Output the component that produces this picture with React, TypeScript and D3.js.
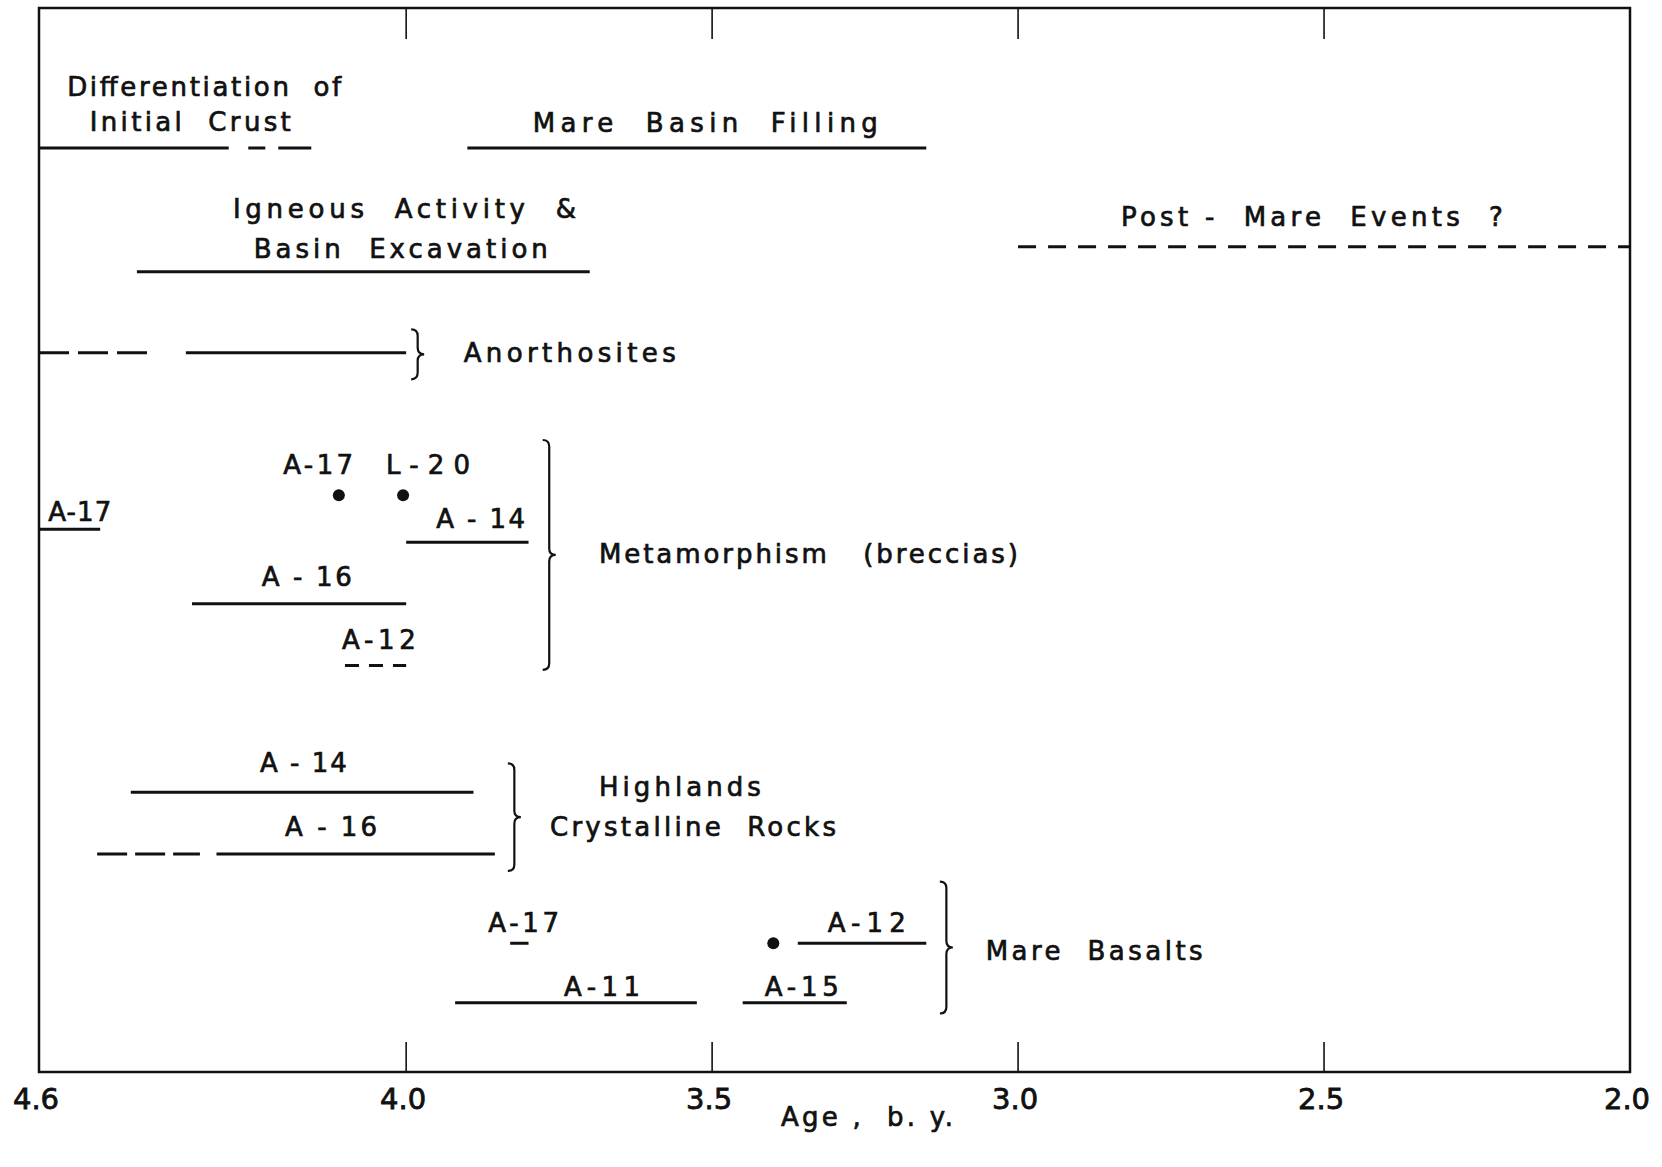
import React from 'react';
import * as d3 from 'd3';

const W = 1662;
const H = 1167;
const plot = { left: 39, right: 1630, top: 8, bottom: 1072 };

// Age axis, billion years (older on the left)
const xTicks = [4.6, 4.0, 3.5, 3.0, 2.5, 2.0];
const xTitle = 'Age ,  b. y.';

// Well constrained age spans: [record, older age, younger age]
const solidSpans: [string, number, number][] = [
  ['crust', 4.6, 4.29],
  ['mareFill', 3.9, 3.15],
  ['igneous', 4.44, 3.7],
  ['anorthosite', 4.36, 4.0],
  ['metaA17', 4.6, 4.5],
  ['metaA14', 4.0, 3.8],
  ['metaA16', 4.35, 4.0],
  ['highA14', 4.45, 3.89],
  ['highA16', 4.31, 3.855],
  ['basaltA17', 3.83, 3.8],
  ['basaltA12', 3.36, 3.15],
  ['basaltA11', 3.92, 3.525],
  ['basaltA15', 3.45, 3.28],
];

// Uncertain age spans (dashed)
const dashedSpans: [string, number, number][] = [
  ['crust', 4.258, 4.15],
  ['postMare', 3.0, 2.0],
  ['anorthosite', 4.6, 4.415],
  ['metaA12', 4.1, 4.0],
  ['highA16', 4.505, 4.337],
];

// Single age determinations
const pointAges: [string, number][] = [
  ['metaPoint', 4.11],
  ['metaPoint', 4.005],
  ['basaltA12', 3.4],
];

// ---- layout (vertical tracks in % of plot height) ----
const track: Record<string, number> = {
  crust: 13.15,
  mareFill: 13.15,
  igneous: 24.8,
  postMare: 22.45,
  anorthosite: 32.4,
  metaPoint: 45.8,
  metaA17: 49.0,
  metaA14: 50.2,
  metaA16: 56.0,
  metaA12: 61.8,
  highA14: 73.7,
  highA16: 79.5,
  basaltA17: 87.9,
  basaltA12: 87.9,
  basaltA11: 93.5,
  basaltA15: 93.5,
};

const dashFor: Record<string, string> = {
  crust: '17,13,33,50',
  postMare: '18,12',
  anorthosite: '30,9',
  metaA12: '14,10',
  highA16: '30,8',
};

// [text, left age, baseline track, rendered width]
const labels: [string, number, number, number][] = [
  ['Differentiation  of', 4.554, 8.3, 274],
  ['Initial  Crust', 4.517, 11.6, 201],
  ['Mare  Basin  Filling', 3.793, 11.7, 345],
  ['Igneous  Activity  &', 4.283, 19.7, 343],
  ['Basin  Excavation', 4.249, 23.45, 294],
  ['Post -  Mare  Events  ?', 2.832, 20.45, 382],
  ['Anorthosites', 3.906, 33.3, 212],
  ['A-17', 4.201, 43.75, 70],
  ['L-20', 4.033, 43.75, 84],
  ['A-17', 4.585, 48.25, 63],
  ['A - 14', 3.951, 48.9, 89],
  ['Metamorphism   (breccias)', 3.685, 52.2, 419],
  ['A - 16', 4.236, 54.35, 90],
  ['A-12', 4.105, 60.25, 74],
  ['A - 14', 4.239, 71.85, 87],
  ['Highlands', 3.685, 74.05, 162],
  ['A - 16', 4.198, 77.85, 92],
  ['Crystalline  Rocks', 3.765, 77.85, 286],
  ['A-17', 3.866, 86.8, 71],
  ['A-12', 3.311, 86.8, 78],
  ['A-11', 3.742, 92.85, 76],
  ['A-15', 3.414, 92.85, 74],
  ['Mare  Basalts', 3.053, 89.45, 217],
];

// braces grouping records: [age of brace, top track, bottom track]
const braces: [number, number, number][] = [
  [3.982, 30.2, 34.9],
  [3.767, 40.6, 62.2],
  [3.824, 71.0, 81.1],
  [3.118, 82.1, 94.5],
];

const FONT = "'DejaVu Sans', 'Liberation Sans', sans-serif";

function bracePath(x: number, y0: number, y1: number, w: number) {
  const m = (y0 + y1) / 2;
  const c = x + w / 2;
  const r = w / 2;
  return (
    `M${x},${y0} Q${c},${y0} ${c},${y0 + r} L${c},${m - r} ` +
    `Q${c},${m} ${x + w},${m} Q${c},${m} ${c},${m + r} ` +
    `L${c},${y1 - r} Q${c},${y1} ${x},${y1}`
  );
}

export default function App() {
  const x = d3.scaleLinear().domain([4.6, 2.0]).range([plot.left, plot.right]);
  const y = d3.scaleLinear().domain([0, 100]).range([plot.top, plot.bottom]);
  const fmt = d3.format('.1f');
  const inner = xTicks.slice(1, -1);

  return (
    <svg
      width={W}
      height={H}
      style={{ position: 'absolute', left: 0, top: 0, background: '#fff' }}
    >
      <rect x={0} y={0} width={W} height={H} fill="#fff" />

      {/* frame */}
      <rect
        x={plot.left}
        y={plot.top}
        width={plot.right - plot.left}
        height={plot.bottom - plot.top}
        fill="none"
        stroke="#111"
        strokeWidth={2.5}
      />

      {/* ticks top and bottom */}
      {inner.map((t) => (
        <g key={t}>
          <line x1={x(t)} x2={x(t)} y1={plot.top} y2={plot.top + 31} stroke="#111" strokeWidth={1.6} />
          <line x1={x(t)} x2={x(t)} y1={plot.bottom} y2={plot.bottom - 30} stroke="#111" strokeWidth={1.6} />
        </g>
      ))}

      {/* tick labels */}
      {xTicks.map((t) => (
        <text
          key={t}
          x={x(t) - 3}
          y={plot.bottom + 37}
          textAnchor="middle"
          fontFamily={FONT}
          fontSize={29}
          fill="#111"
          stroke="#111"
          strokeWidth={0.8}
        >
          {fmt(t)}
        </text>
      ))}

      <text
        x={x(3.247)}
        y={plot.bottom + 54}
        textAnchor="middle"
        fontFamily={FONT}
        fontSize={26}
        fill="#111"
        stroke="#111"
        strokeWidth={0.7}
        textLength={172}
        lengthAdjust="spacing"
        style={{ whiteSpace: 'pre' }}
      >
        {xTitle}
      </text>

      {/* solid spans */}
      {solidSpans.map(([k, a, b], i) => (
        <line
          key={'s' + i}
          x1={x(a)}
          x2={x(b)}
          y1={y(track[k])}
          y2={y(track[k])}
          stroke="#111"
          strokeWidth={3}
        />
      ))}

      {/* dashed spans */}
      {dashedSpans.map(([k, a, b], i) => (
        <line
          key={'d' + i}
          x1={x(a)}
          x2={x(b)}
          y1={y(track[k])}
          y2={y(track[k])}
          stroke="#111"
          strokeWidth={3}
          strokeDasharray={dashFor[k]}
        />
      ))}

      {/* single determinations */}
      {pointAges.map(([k, a], i) => (
        <circle key={'p' + i} cx={x(a)} cy={y(track[k])} r={6} fill="#111" />
      ))}

      {/* braces */}
      {braces.map(([a, t0, t1], i) => (
        <path
          key={'b' + i}
          d={bracePath(x(a) - 6, y(t0), y(t1), 13)}
          fill="none"
          stroke="#111"
          strokeWidth={2.2}
        />
      ))}

      {/* labels */}
      {labels.map(([txt, a, t, w], i) => (
        <text
          key={'l' + i}
          x={x(a)}
          y={y(t)}
          fontFamily={FONT}
          fontSize={26}
          fill="#111"
          stroke="#111"
          strokeWidth={0.7}
          textLength={w}
          lengthAdjust="spacing"
          style={{ whiteSpace: 'pre' }}
        >
          {txt}
        </text>
      ))}
    </svg>
  );
}
